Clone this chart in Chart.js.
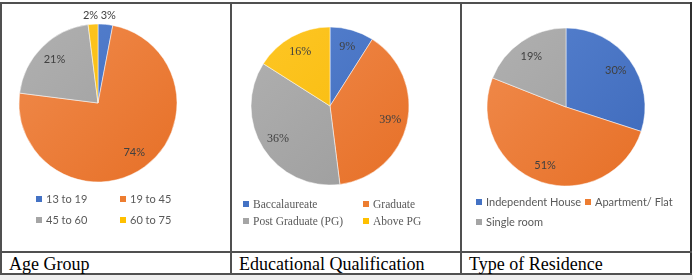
<!DOCTYPE html>
<html>
<head>
<meta charset="utf-8">
<script src="https://cdn.jsdelivr.net/npm/chart.js@4.4.0/dist/chart.umd.min.js"></script>
<style>
  html, body { margin: 0; padding: 0; background: #fff; }
  body { width: 693px; height: 280px; position: relative; overflow: hidden; }
  .line { position: absolute; background: #505050; }
  .legend { position: absolute; font-size: 11px; color: #595959; white-space: nowrap; }
  .legend .item { position: absolute; line-height: 12px; }
  .legend .box { display: inline-block; width: 6px; height: 6px; margin-right: 4px; vertical-align: 1px; }
  .caption { position: absolute; top: 254px; font-family: "Liberation Serif", "Times New Roman", serif; font-size: 18px; color: #000; line-height: 20px; }
  .strip { position: absolute; left: 0; top: 275px; width: 693px; height: 5px; background: #eeeeee; }
</style>
</head>
<body>
<div class="strip"></div>

<div class="line" style="left:0;top:2px;width:692px;height:2px;"></div>
<div class="line" style="left:0;top:2px;width:2px;height:273px;"></div>
<div class="line" style="left:690px;top:2px;width:2px;height:273px;background:#303030;"></div>
<div class="line" style="left:230px;top:2px;width:2px;height:273px;"></div>
<div class="line" style="left:460px;top:2px;width:2px;height:273px;"></div>
<div class="line" style="left:0;top:251px;width:692px;height:2px;"></div>
<div class="line" style="left:0;top:273px;width:692px;height:2px;"></div>

<canvas id="agePie" width="200" height="200" style="position:absolute;left:-2px;top:3px;"></canvas>
<canvas id="eduPie" width="200" height="200" style="position:absolute;left:230px;top:6px;"></canvas>
<canvas id="resPie" width="200" height="200" style="position:absolute;left:466px;top:7px;"></canvas>

<div class="legend" id="ageLegend"></div>
<div class="legend" id="eduLegend" style="font-size:11.5px;"></div>
<div class="legend" id="resLegend"></div>

<div class="caption" style="left:9px;">Age Group</div>
<div class="caption" style="left:239px;">Educational Qualification</div>
<div class="caption" style="left:469px;">Type of Residence</div>

<script>
// data
const ageLabels = ['13 to 19', '19 to 45', '45 to 60', '60 to 75'];
const ageValues = [3, 74, 21, 2];

const eduLabels = ['Baccalaureate', 'Graduate', 'Post Graduate (PG)', 'Above PG'];
const eduValues = [9, 39, 36, 16];

const resLabels = ['Independent House', 'Apartment/ Flat', 'Single room'];
const resValues = [30, 51, 19];

// office-like palette, light and dark end of each gradient
const palette = [
  ['#5a85d2', '#3a66b8'],
  ['#f28f52', '#e56c22'],
  ['#b3b3b3', '#999999'],
  ['#ffc82a', '#f5b700']
];
const flat = ['#4472C4', '#ED7D31', '#A5A5A5', '#FFC000'];

function sliceFill(context) {
  const chart = context.chart;
  const area = chart.chartArea;
  const c = palette[context.dataIndex % palette.length];
  if (!area) return flat[context.dataIndex];
  const g = chart.ctx.createLinearGradient(area.left, area.top, area.right, area.bottom);
  g.addColorStop(0, c[0]);
  g.addColorStop(1, c[1]);
  return g;
}

// draws the percentage inside each slice, small slices go outside
const pctLabels = {
  id: 'pctLabels',
  afterDatasetsDraw(chart, args, opts) {
    const ctx = chart.ctx;
    const meta = chart.getDatasetMeta(0);
    const values = chart.data.datasets[0].data;
    const total = values.reduce((a, b) => a + b, 0);
    ctx.save();
    ctx.font = opts.font;
    ctx.fillStyle = '#404040';
    ctx.textAlign = 'center';
    ctx.textBaseline = 'middle';
    meta.data.forEach((arc, i) => {
      const p = arc.getProps(['x', 'y', 'startAngle', 'endAngle', 'outerRadius'], true);
      const mid = (p.startAngle + p.endAngle) / 2;
      const share = values[i] / total;
      const d = share < 0.05 ? p.outerRadius + 9 : p.outerRadius * 0.78;
      let x = p.x + Math.cos(mid) * d;
      const y = p.y + Math.sin(mid) * d;
      if (share < 0.05) x += Math.cos(mid) >= 0 ? 2 : -2;
      ctx.fillText(values[i] + '%', x, y);
    });
    ctx.restore();
  }
};

function makePie(id, labels, values, font) {
  return new Chart(document.getElementById(id), {
    type: 'pie',
    data: {
      labels: labels,
      datasets: [{
        data: values,
        backgroundColor: sliceFill,
        borderColor: '#ffffff',
        borderWidth: 0.5
      }]
    },
    options: {
      responsive: false,
      animation: false,
      radius: 79,
      plugins: {
        legend: { display: false },
        tooltip: { enabled: false },
        pctLabels: { font: font }
      }
    },
    plugins: [pctLabels]
  });
}

function makeLegend(id, labels, cols, rows, font) {
  const el = document.getElementById(id);
  el.style.fontFamily = font;
  labels.forEach((lab, i) => {
    const item = document.createElement('div');
    item.className = 'item';
    item.style.left = cols[i % 2] + 'px';
    item.style.top = rows[Math.floor(i / 2)] + 'px';
    item.innerHTML = '<span class="box" style="background:' + flat[i] + '"></span>' + lab;
    el.appendChild(item);
  });
}

const sans = 'Lato, "Open Sans", sans-serif';
const serif = '"Liberation Serif", "Times New Roman", serif';

makePie('agePie', ageLabels, ageValues, '11px ' + sans);
makePie('eduPie', eduLabels, eduValues, '12px ' + serif);
makePie('resPie', resLabels, resValues, '11px ' + sans);

makeLegend('ageLegend', ageLabels, [36, 120], [193, 214], sans);
makeLegend('eduLegend', eduLabels, [243, 363], [198, 215], serif);
makeLegend('resLegend', resLabels, [476, 585], [196, 216], sans);
</script>
</body>
</html>
